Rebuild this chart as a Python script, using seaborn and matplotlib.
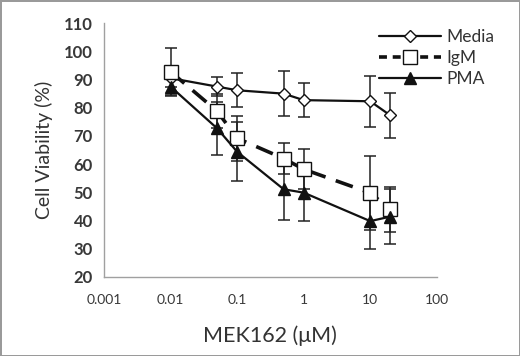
import pandas as pd
import numpy as np
import seaborn as sns
import matplotlib.pyplot as plt
from matplotlib.lines import Line2D

# 데이터
dose = [0.01, 0.05, 0.1, 0.5, 1, 10, 20]
media = [90.5, 87.5, 86.2, 85.0, 82.7, 82.3, 77.3]
media_err = [3.0, 3.5, 6.0, 8.0, 6.0, 9.0, 8.0]
igm = [92.8, 78.8, 69.2, 62.0, 58.2, 49.8, 44.0]
igm_err = [8.5, 6.0, 8.0, 5.5, 7.0, 13.0, 8.0]
pma = [87.5, 72.7, 64.4, 51.1, 49.9, 39.8, 41.4]
pma_err = [3.0, 9.5, 10.5, 11.0, 10.0, 9.8, 9.8]
series = ['Media', 'IgM', 'PMA']

df = pd.DataFrame({
    'dose': dose * 3,
    'viability': media + igm + pma,
    'err': media_err + igm_err + pma_err,
    'group': [s for s in series for _ in dose],
})

sns.set_style('white')
plt.rcParams['font.family'] = ['Lato', 'DejaVu Sans']

fig = plt.figure(figsize=(5.2, 3.56), dpi=100, edgecolor='#9a9a9a', linewidth=2)
ax = fig.add_axes([0.2, 0.222, 0.64, 0.713])

# 오차 막대
for g in series:
    sub = df[df['group'] == g]
    ax.errorbar(sub['dose'], sub['viability'], yerr=sub['err'], fmt='none',
                ecolor='#222222', elinewidth=1.1, capsize=4, capthick=1.1, zorder=2)

styles = {'Media': '', 'IgM': (5, 3), 'PMA': ''}
markers = {'Media': 'D', 'IgM': 's', 'PMA': '^'}
sns.lineplot(data=df, x='dose', y='viability', hue='group', style='group',
             palette=['#111111'] * 3, dashes=styles, markers=markers,
             linewidth=1.6, ax=ax, legend=False, zorder=3)

# 마커 색/크기 조정
sizes = {'Media': 6, 'IgM': 10, 'PMA': 8}
faces = {'Media': 'white', 'IgM': 'white', 'PMA': '#111111'}
for line, g in zip(ax.get_lines()[-3:], series):
    line.set_markersize(sizes[g])
    line.set_markerfacecolor(faces[g])
    line.set_markeredgecolor('#111111')
    line.set_markeredgewidth(1.0)
    if g == 'IgM':
        line.set_linewidth(2.6)

ax.set_xscale('log')
ax.set_xlim(0.001, 100)
ax.set_ylim(20, 110)
ax.set_xticks([0.001, 0.01, 0.1, 1, 10, 100])
ax.set_xticklabels(['0.001', '0.01', '0.1', '1', '10', '100'])
ax.minorticks_off()
ax.set_yticks(range(20, 111, 10))

for s in ['top', 'right']:
    ax.spines[s].set_visible(False)
for s in ['left', 'bottom']:
    ax.spines[s].set_color('#a0a0a0')
    ax.spines[s].set_linewidth(1.0)
ax.tick_params(axis='both', direction='out', length=4, color='#a0a0a0', width=1.0)
ax.tick_params(axis='y', labelsize=12, labelcolor='#383838', pad=4)
ax.tick_params(axis='x', labelsize=10, labelcolor='#383838', pad=8)
for t in ax.get_yticklabels():
    t.set_fontweight('bold')

ax.set_xlabel('MEK162 (μM)', fontsize=15.5, color='#333333', labelpad=14)
ax.set_ylabel('Cell Viability (%)', fontsize=14, color='#333333', labelpad=8)

handles = [
    Line2D([], [], color='#111111', lw=1.6, marker='D', ms=6, mfc='white', mec='#111111'),
    Line2D([], [], color='#111111', lw=2.6, ls=(0, (2.2, 1.6)), marker='s', ms=10, mfc='white', mec='#111111', mew=1.0),
    Line2D([], [], color='#111111', lw=1.6, marker='^', ms=8, mfc='#111111', mec='#111111'),
]
ax.legend(handles, series, loc='upper right', bbox_to_anchor=(1.22, 1.04), frameon=False,
          fontsize=12.5, handlelength=3.6, labelspacing=0.3, handletextpad=0.3,
          labelcolor='#333333')

plt.savefig('out.png', dpi=100)
plt.close()
